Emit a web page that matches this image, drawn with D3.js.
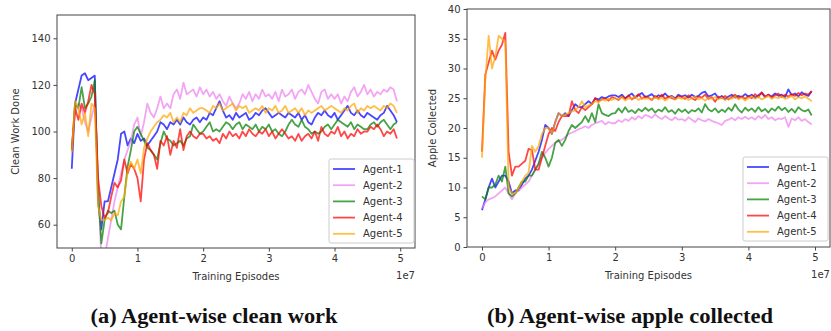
<!DOCTYPE html>
<html>
<head>
<meta charset="utf-8">
<script src="https://cdn.jsdelivr.net/npm/d3@7"></script>
<style>
	body { margin: 0; background: #fff; }
	svg { display: block; }
</style>
</head>
<body>
<svg id="main-svg" width="831" height="331"></svg>
<script>

// episode index, one sample every 5e5 episodes
var episodes = d3.range( 100 ).map( function ( i ) { return i * 5e5; } );

var agentNames = [ 'Agent-1', 'Agent-2', 'Agent-3', 'Agent-4', 'Agent-5' ];
var agentColors = [ 'blue', 'violet', 'green', 'red', 'orange' ];
var xTicks = [ 0, 1e7, 2e7, 3e7, 4e7, 5e7 ];

// (a) clean work done
var cleanTicks = [ 60, 80, 100, 120, 140 ];
var cleanAgent1 = [
	84,112,118,124,125,122,123,124,70,58,
	70,70,76,82,88,99,100,94,97,95,
	99,96,97,94,96,98,100,104,103,101,
	104,103,105,103,106,104,103,105,106,104,
	106,105,108,107,110,113,109,106,107,105,
	108,106,107,108,105,106,108,107,109,110,
	108,106,107,108,107,106,108,107,106,108,
	105,107,104,103,106,108,107,109,107,106,
	108,105,107,109,111,108,107,109,107,106,
	108,107,106,105,107,108,111,109,107,104 ];
var cleanAgent2 = [
	93,108,112,110,104,100,106,112,80,45,
	46,54,62,70,76,82,88,92,96,103,
	106,98,104,112,108,106,110,115,110,112,
	110,116,118,114,121,116,117,118,115,119,
	116,118,115,117,114,116,113,111,115,112,
	110,112,116,114,117,113,116,114,118,115,
	116,114,117,113,118,115,116,118,114,117,
	118,116,120,117,114,112,117,118,114,116,
	114,116,112,115,113,117,119,115,117,120,
	116,118,115,117,116,118,117,119,118,113 ];
var cleanAgent3 = [
	92,112,110,119,110,112,115,122,75,52,
	62,66,65,66,60,58,72,85,92,100,
	102,99,96,93,92,90,88,95,100,97,
	96,94,95,96,94,97,98,103,101,99,
	100,102,104,100,101,100,102,104,103,101,
	103,104,101,103,102,101,103,100,102,101,
	103,100,101,99,98,100,103,105,103,102,
	105,102,101,99,100,99,100,102,103,101,
	103,105,104,103,102,104,101,103,102,101,
	101,103,104,102,104,105,103,101,103,104 ];
var cleanAgent4 = [
	92,110,105,112,108,113,120,116,80,68,
	63,65,72,78,76,79,88,82,86,84,
	80,70,88,95,92,90,84,96,94,98,
	90,96,93,101,92,98,100,98,97,99,
	99,97,98,96,97,95,99,97,100,98,
	99,97,100,98,101,99,98,100,99,101,
	98,100,97,99,101,99,97,98,96,99,
	96,98,99,97,100,96,102,99,98,100,
	99,102,98,100,97,99,98,101,99,100,
	100,102,101,103,101,98,100,99,101,97 ];
var cleanAgent5 = [
	91,113,110,103,108,98,112,110,68,62,
	62,63,62,65,64,70,72,83,87,84,
	88,82,93,97,100,102,104,105,107,106,
	108,104,106,104,108,107,110,108,109,110,
	110,109,108,111,110,112,109,110,111,112,
	109,111,110,111,108,109,110,109,111,108,
	110,109,111,108,109,111,108,109,110,108,
	110,107,109,108,109,110,111,109,110,111,
	110,109,108,110,109,111,112,108,110,109,
	111,110,111,110,109,111,110,112,111,108 ];

// (b) apples collected
var appleTicks = [ 0, 5, 10, 15, 20, 25, 30, 35, 40 ];
var appleAgent1 = [
	6.2,8,10,11.5,10,11,12,12,11,9,
	9.5,9.5,10.5,11.5,12,13,14.5,16,18,20.5,
	20,19,21,22.5,22,22.5,22,23,24,23.5,
	23.5,24,24.5,24,25,24.8,25.2,25,25.3,25.5,
	25.5,25.2,25.6,25,25.4,25.8,25.1,25.5,25.9,25.2,
	25.4,25.7,25.1,25.5,25.3,25.8,25.2,25.4,25,25.6,
	25.3,25.5,25.1,25.6,25.2,25.4,25.9,26.1,25.3,25.5,
	25.8,25,25.4,24.8,25.3,25.6,25.1,25.4,25.2,25.7,
	25.3,25.6,25.1,25.5,25.9,25.2,25.6,25.3,25.8,25.4,
	25.6,25.2,26.5,25.5,25.8,25.3,26,25.6,25.4,26.2 ];
var appleAgent2 = [
	6.5,7.5,8,8.2,8.5,9,9.5,10,9,8,
	9,9.5,10,10.5,11,12,13,14,15,15.8,
	16.5,17,17.5,17.8,18,18.5,19,19.2,19.5,19.8,
	20,20.3,20,20.5,20.8,21,21.2,20.6,21,20.8,
	20.8,21.3,21,21.5,21.2,21.8,21.4,22,21.6,22.2,
	22,21.7,22.3,21.8,21.5,22,21.6,21.3,21.8,21.4,
	21.5,21.2,21.8,21.4,21,21.6,21.3,21.1,21.5,21.2,
	21,20.8,20.5,21.2,21.4,21.7,21.3,21.8,21.5,21.9,
	21.5,21.8,21.4,22,21.6,22.2,21.5,21.8,21.3,21.6,
	21.5,21.8,20.2,21.6,21.3,21.8,21.2,21.5,21,20.6 ];
var appleAgent3 = [
	8.5,8,10,10,10.5,12,11,13.5,9,8.5,
	9,10,11,11,12,12,13,14,16,15,
	13.5,15,17.5,18,17,18,19.5,20.5,20,20.5,
	21,22,21,22.5,21,24,22.5,22.2,22,22.4,
	22.5,23.3,22.6,23.5,22.7,23,22.5,23.2,22.8,23.4,
	22.9,23.3,22.6,23.1,22.8,23.5,22.7,23,22.4,23.2,
	22.7,23.1,22.5,23,22.8,23.3,22.6,24,23.1,22.8,
	23.3,22.6,23.1,22.7,23.4,22.9,24,23.1,22.6,23.4,
	22.9,23.3,22.7,23.5,22.8,23.2,22.6,23.3,22.9,23.6,
	23,23.4,22.7,23.2,22.6,23.5,23,22.8,23.1,22.1 ];
var appleAgent4 = [
	16,29,31,33,31.5,33,34,36,16,12,
	13.5,13.5,14,14.5,16.5,16.3,13,13,15,17,
	19,20,19.5,21,22,22,22,24.5,23,22.5,
	23.5,23,23.5,24,25,24.5,24.8,25,24.6,25.2,
	25,24.7,25.3,24.9,25.5,24.8,25.2,25.7,24.9,25.3,
	25.1,24.7,25.4,25,25.6,24.9,25.3,25,24.8,25.4,
	25.2,24.9,25.5,25,24.7,25.3,25.1,25.6,24.9,25.2,
	24.4,25.3,25,25.4,24.8,25.2,25.6,25,25.3,24.9,
	25.4,25,25.7,25.2,26,25.3,25.6,25.1,25.5,25.8,
	25.2,25.6,25.3,25.7,25.4,25.9,25.5,25.8,25.6,26.2 ];
var appleAgent5 = [
	15,28,35.5,30,32,35.5,35,34.5,10,9,
	9,10,11,12,12.5,17,16,17,19,20,
	20,19,21,22.5,22,22.3,22.5,22.8,23,23.5,
	24.5,23.5,23.8,24,24.5,24.3,24.8,24.6,24.9,24.7,
	25,24.8,25.2,24.6,25,24.9,25.3,24.7,25.1,24.9,
	25,24.7,25.2,24.8,25.1,24.6,25,25.3,24.8,25.1,
	24.9,25.2,24.7,25,25.3,24.8,25,24.6,25.1,24.9,
	25.2,24.8,25.1,24.7,25,24.9,25.3,24.8,25.1,24.6,
	25,25.3,24.9,25.2,24.8,25.1,25.4,24.9,25.2,25,
	25.3,24.9,25.1,25.4,24.8,25.2,25,25.3,24.9,24.5 ];


var svg = d3.select( 'svg#main-svg' ),
	axisColor = '#444',
	textColor = '#333';


/**
 * Draws one matplotlib-like panel.
 * @param	{Object}	p	frame, scales domain, labels and series
 */
function drawPanel( p ) {

	var x = d3.scaleLinear().domain( [ -0.225e7, 5.225e7 ] ).range( [ p.left, p.right ] ),
		y = d3.scaleLinear().domain( p.yDomain ).range( [ p.bottom, p.top ] ),
		g = svg.append( 'g' );

	g.append( 'clipPath' )
		.attr( 'id', p.id + '-clip' )
		.append( 'rect' )
		.attr( 'x', p.left ).attr( 'y', p.top )
		.attr( 'width', p.right - p.left ).attr( 'height', p.bottom - p.top );

	var line = d3.line()
		.x( function ( d, i ) { return x( episodes[ i ] ); } )
		.y( function ( d ) { return y( d ); } );

	g.append( 'g' )
		.attr( 'clip-path', 'url(#' + p.id + '-clip)' )
		.selectAll( 'path' )
		.data( p.series )
		.join( 'path' )
		.attr( 'd', line )
		.attr( 'fill', 'none' )
		.attr( 'stroke', function ( d, i ) { return agentColors[ i ]; } )
		.attr( 'stroke-opacity', 0.72 )
		.attr( 'stroke-width', 1.8 )
		.attr( 'stroke-linejoin', 'round' );

	// axes
	var xAxis = g.append( 'g' )
		.attr( 'transform', 'translate(0,' + p.bottom + ')' )
		.call( d3.axisBottom( x ).tickValues( xTicks ).tickSize( 3.5 ).tickPadding( 3 )
			.tickFormat( function ( d ) { return d / 1e7; } ) );

	var yAxis = g.append( 'g' )
		.attr( 'transform', 'translate(' + p.left + ',0)' )
		.call( d3.axisLeft( y ).tickValues( p.yTicks ).tickSize( 3.5 ).tickPadding( 3 ) );

	[ xAxis, yAxis ].forEach( function ( a ) {
		a.select( '.domain' ).remove();
		a.selectAll( 'line' ).attr( 'stroke', axisColor );
		a.selectAll( 'text' )
			.attr( 'fill', textColor )
			.style( 'font-family', 'DejaVu Sans' )
			.style( 'font-size', '10px' );
	} );

	g.append( 'rect' )
		.attr( 'x', p.left ).attr( 'y', p.top )
		.attr( 'width', p.right - p.left ).attr( 'height', p.bottom - p.top )
		.attr( 'fill', 'none' )
		.attr( 'stroke', axisColor )
		.attr( 'stroke-width', 1 );

	// labels
	g.append( 'text' )
		.attr( 'x', ( p.left + p.right ) / 2 ).attr( 'y', p.bottom + 32 )
		.attr( 'text-anchor', 'middle' )
		.attr( 'fill', textColor )
		.style( 'font', '10px "DejaVu Sans"' )
		.text( 'Training Episodes' );

	g.append( 'text' )
		.attr( 'x', p.right ).attr( 'y', p.bottom + 31 )
		.attr( 'text-anchor', 'end' )
		.attr( 'fill', textColor )
		.style( 'font', '10px "DejaVu Sans"' )
		.text( '1e7' );

	g.append( 'text' )
		.attr( 'transform', 'translate(' + p.yLabelX + ',' + ( p.top + p.bottom ) / 2 + ') rotate(-90)' )
		.attr( 'text-anchor', 'middle' )
		.attr( 'fill', textColor )
		.style( 'font', '10px "DejaVu Sans"' )
		.text( p.yLabel );

	// legend
	var lg = g.append( 'g' ).attr( 'transform', 'translate(' + p.legendX + ',' + p.legendY + ')' );

	lg.append( 'rect' )
		.attr( 'width', 85 ).attr( 'height', 84 )
		.attr( 'rx', 2 )
		.attr( 'fill', '#fff' ).attr( 'fill-opacity', 0.8 )
		.attr( 'stroke', '#ccc' );

	var item = lg.selectAll( 'g.item' )
		.data( agentNames )
		.join( 'g' )
		.attr( 'class', 'item' )
		.attr( 'transform', function ( d, i ) { return 'translate(0,' + ( 10 + i * 16.2 ) + ')'; } );

	item.append( 'line' )
		.attr( 'x1', 4 ).attr( 'x2', 26 )
		.attr( 'stroke', function ( d, i ) { return agentColors[ i ]; } )
		.attr( 'stroke-opacity', 0.72 )
		.attr( 'stroke-width', 1.8 );

	item.append( 'text' )
		.attr( 'x', 34 ).attr( 'y', 3.6 )
		.attr( 'fill', textColor )
		.style( 'font', '10px "DejaVu Sans"' )
		.text( function ( d ) { return d; } );

	// caption
	svg.append( 'text' )
		.attr( 'x', p.captionX ).attr( 'y', 323 )
		.attr( 'text-anchor', 'middle' )
		.attr( 'textLength', p.captionWidth )
		.attr( 'lengthAdjust', 'spacingAndGlyphs' )
		.attr( 'fill', '#111' )
		.style( 'font', 'bold 20px "Liberation Serif"' )
		.text( p.caption );
}


drawPanel( {
	id: 'clean',
	left: 57, right: 415, top: 15, bottom: 248,
	yDomain: [ 50, 150 ],
	yTicks: cleanTicks,
	yLabel: 'Clean Work Done',
	yLabelX: 19,
	series: [ cleanAgent1, cleanAgent2, cleanAgent3, cleanAgent4, cleanAgent5 ],
	legendX: 329, legendY: 159,
	caption: '(a) Agent-wise clean work',
	captionX: 214, captionWidth: 247
} );

drawPanel( {
	id: 'apple',
	left: 467, right: 830, top: 9, bottom: 247,
	yDomain: [ 0, 40 ],
	yTicks: appleTicks,
	yLabel: 'Apple Collected',
	yLabelX: 436,
	series: [ appleAgent1, appleAgent2, appleAgent3, appleAgent4, appleAgent5 ],
	legendX: 743, legendY: 157,
	caption: '(b) Agent-wise apple collected',
	captionX: 630, captionWidth: 286
} );

</script>
</body>
</html>
